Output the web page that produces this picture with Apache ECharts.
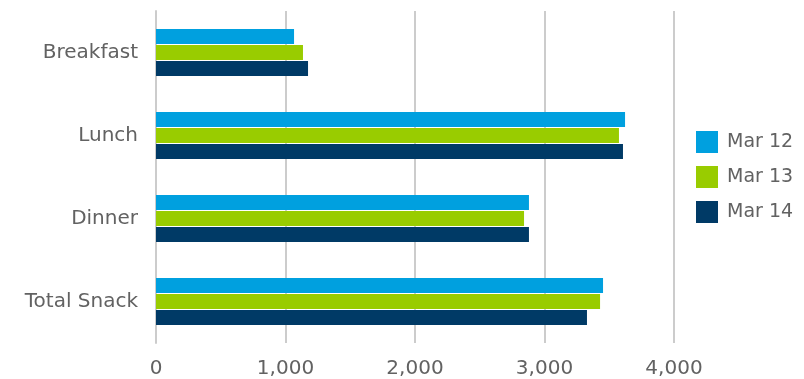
<!DOCTYPE html>
<html><head><meta charset="utf-8">
<script src="https://cdn.jsdelivr.net/npm/echarts@6/dist/echarts.min.js"></script>
<style>html,body{margin:0;padding:0;background:#fff}#c{width:804px;height:379px}</style>
</head><body><div id="c"></div>
<script>
const categories = ["Breakfast", "Lunch", "Dinner", "Total Snack"];
const seriesNames = ["Mar 12", "Mar 13", "Mar 14"];
const mar12 = [1066, 3622, 2880, 3452];
const mar13 = [1135, 3575, 2842, 3429];
const mar14 = [1174, 3606, 2880, 3328];
const xTicks = [0, 1000, 2000, 3000, 4000];
const colors = ["#00A0DF", "#99CC00", "#003A66"];

const font = "DejaVu Sans";
const chart = echarts.init(document.getElementById('c'), null, {renderer: 'canvas'});
const values = [mar12, mar13, mar14];
chart.setOption({
  animation: false,
  textStyle: {fontFamily: font},
  grid: {left: 156, right: 130, top: 11, bottom: 36, containLabel: false},
  legend: {
    orient: 'vertical', left: 696, top: 131, padding: 0,
    itemWidth: 22, itemHeight: 22, itemGap: 13, icon: 'rect',
    textStyle: {fontFamily: font, fontSize: 19, color: '#626262', padding: [0, 0, 0, 4]},
    data: seriesNames
  },
  xAxis: {
    type: 'value', min: xTicks[0], max: xTicks[xTicks.length - 1], interval: 1000,
    axisLine: {show: false}, axisTick: {show: false},
    splitLine: {show: true, lineStyle: {color: '#cccccc', width: 2}},
    axisLabel: {fontFamily: font, fontSize: 20, color: '#626262', margin: 16,
      formatter: v => v.toLocaleString('en-US')}
  },
  yAxis: {
    type: 'category', data: categories, inverse: true,
    axisLine: {show: true, lineStyle: {color: '#cccccc', width: 2}},
    axisTick: {show: false},
    axisLabel: {fontFamily: font, fontSize: 20, color: '#626262', margin: 18}
  },
  series: seriesNames.map((n, i) => ({
    name: n, type: 'bar', data: values[i], barWidth: 15, barGap: '7%',
    itemStyle: {color: colors[i]}
  }))
});
</script></body></html>
